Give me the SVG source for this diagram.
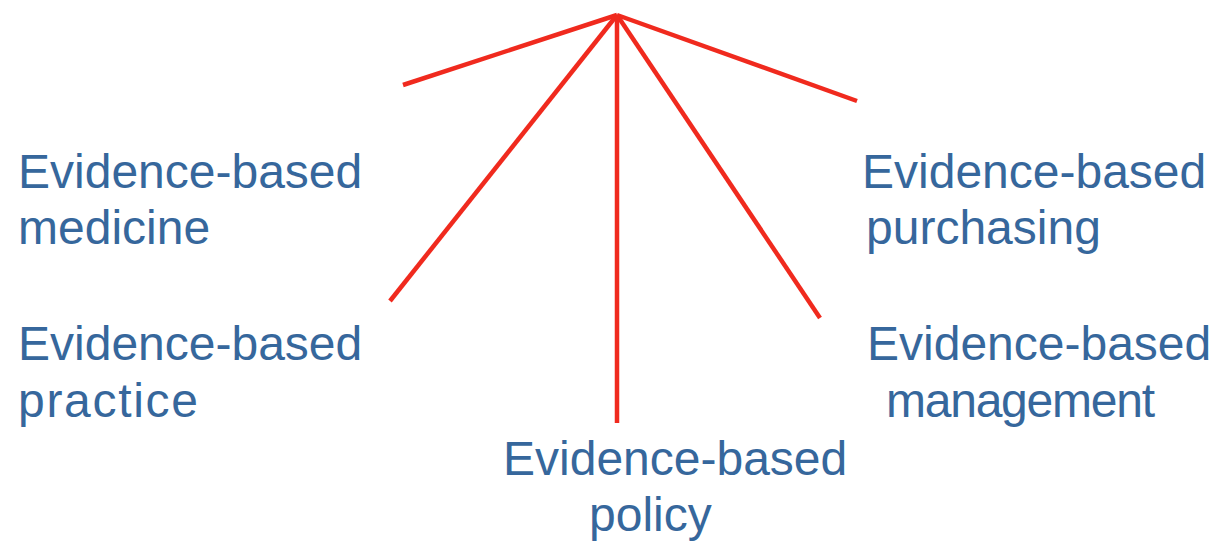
<svg xmlns="http://www.w3.org/2000/svg" width="1216" height="542" viewBox="0 0 1216 542">
<style>
.t{font-family:"Liberation Sans",Arial,sans-serif;font-size:48px;fill:#36679c}
.c{stroke:#f02a1e;stroke-width:4.5;fill:none;stroke-linecap:butt}
</style>
<rect width="1216" height="542" fill="#fff"/>
<g id="connectors">
<line class="c" x1="617" y1="15" x2="403" y2="85"/>
<line class="c" x1="617" y1="15" x2="857" y2="101"/>
<line class="c" x1="617" y1="15" x2="390" y2="301"/>
<line class="c" x1="617" y1="15" x2="820" y2="318"/>
<line class="c" x1="617" y1="15" x2="617" y2="423"/>
</g>
<g id="medicine"><text class="t" x="18" y="188">Evidence-based</text><text class="t" x="18" y="244">medicine</text></g>
<g id="practice"><text class="t" x="18" y="360">Evidence-based</text><text class="t" x="18" y="417" textLength="180" lengthAdjust="spacing">practice</text></g>
<g id="policy"><text class="t" x="503" y="475">Evidence-based</text><text class="t" x="589" y="531">policy</text></g>
<g id="purchasing"><text class="t" x="862" y="188">Evidence-based</text><text class="t" x="866" y="244">purchasing</text></g>
<g id="management"><text class="t" x="867" y="360">Evidence-based</text><text class="t" x="886" y="417" textLength="269" lengthAdjust="spacing">management</text></g>
</svg>
